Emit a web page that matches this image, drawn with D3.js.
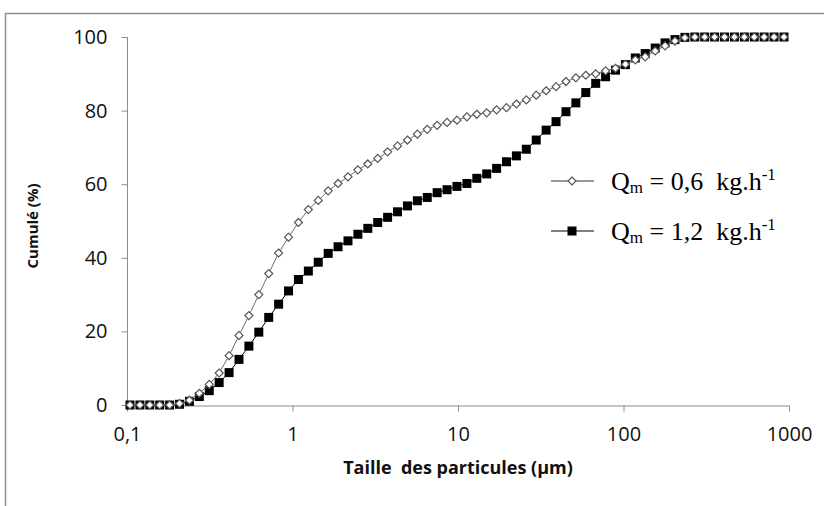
<!DOCTYPE html>
<html><head><meta charset="utf-8">
<script src="https://cdn.jsdelivr.net/npm/d3@7/dist/d3.min.js"></script>
<style>html,body{margin:0;padding:0;background:#fff;}svg{display:block;}text{white-space:pre;}</style>
</head><body>
<svg id="chart" width="824" height="506"></svg>
<script>
// Particle sizes (µm)
const sizes = [0.1042,0.1197,0.1373,0.1576,0.1809,0.2077,0.2384,0.2736,0.3141,0.3605,
  0.4138,0.4750,0.5452,0.6258,0.7183,0.8244,0.9463,1.086,1.247,1.431,
  1.643,1.885,2.164,2.484,2.851,3.272,3.756,4.311,4.949,5.680,
  6.520,7.483,8.590,9.858,11.32,12.99,14.91,17.11,19.64,22.54,
  25.87,29.70,34.09,39.13,44.91,51.55,59.17,67.92,77.96,89.48,
  102.7,117.9,135.3,155.4,178.3,204.7,234.9,269.7,309.5,355.3,
  407.8,468.0,537.2,616.6,707.8,812.4,932.5];
// Cumulative % for Qm = 0,6 kg/h
const cum06 = [0,0,0,0,0,0.4,1.3,3.2,5.6,8.7,
  13.4,18.9,24.3,30.0,35.7,41.3,45.6,49.6,53.1,55.6,
  58.2,60.2,62.0,63.9,65.5,67.0,68.8,70.4,72.0,73.6,
  74.9,76.0,76.8,77.4,78.3,79.0,79.4,80.2,80.8,81.8,
  82.9,84.2,85.4,86.5,87.9,88.9,89.6,90.0,90.8,91.5,
  92.6,93.8,94.6,96.2,97.6,98.9,99.8,100,100,100,
  100,100,100,100,100,100,100];
// Cumulative % for Qm = 1,2 kg/h
const cum12 = [0,0,0,0,0,0.2,1.0,2.3,3.9,6.1,
  8.8,12.4,16.0,19.8,23.8,27.4,31.0,34.1,36.4,38.8,
  41.2,43.0,44.6,46.4,48.0,49.6,51.0,52.5,54.1,55.5,
  56.4,57.7,58.5,59.4,60.2,61.6,62.8,64.3,66.1,67.7,
  69.5,72.0,74.7,77.0,79.7,82.1,84.9,87.4,89.2,91.0,
  92.5,94.3,95.5,97.0,98.4,99.3,99.9,100,100,100,
  100,100,100,100,100,100,100];
const xTicks = [0.1,1,10,100,1000];
const xTickLabels = ["0,1","1","10","100","1000"];
const yTicks = [0,20,40,60,80,100];
const seriesNames = ["0,6","1,2"];

const svg = d3.select("#chart");
// outer frame
svg.append("rect").attr("x",5.5).attr("y",13.5).attr("width",840).attr("height",600)
  .attr("fill","none").attr("stroke","#8f8f8f").attr("stroke-width",1.5);

const x = d3.scaleLog().domain([0.1,1000]).range([127,789]);
const y = d3.scaleLinear().domain([0,100]).range([405,37]);

const axisColor = "#8c8c8c";
const tickFont = "'Open Sans', sans-serif";

// X axis
const gx = svg.append("g").attr("transform","translate(0,405.5)")
  .call(d3.axisBottom(x).tickValues(xTicks).tickSize(6).tickPadding(15)
     .tickFormat((d,i)=>xTickLabels[i]));
gx.select(".domain").attr("stroke",axisColor).attr("d","M127,0.5H789");
gx.selectAll(".tick line").attr("stroke",axisColor);
gx.selectAll("text").attr("font-family",tickFont).attr("font-size",20).attr("fill","#111");

// Y axis
const gy = svg.append("g").attr("transform","translate(127.5,0)")
  .call(d3.axisLeft(y).tickValues(yTicks).tickSize(6).tickPadding(14));
gy.select(".domain").attr("stroke",axisColor).attr("d","M0,37V405.5");
gy.selectAll(".tick line").attr("stroke",axisColor);
gy.selectAll("text").attr("font-family",tickFont).attr("font-size",20).attr("fill","#111");

// axis titles
svg.append("text").attr("x",458).attr("y",474).attr("text-anchor","middle")
  .attr("font-family",tickFont).attr("font-weight","bold").attr("font-size",18)
  .attr("fill","#111").text("Taille  des particules (µm)");
svg.append("text").attr("transform","translate(38,226) rotate(-90)").attr("text-anchor","middle")
  .attr("font-family",tickFont).attr("font-weight","bold").attr("font-size",15)
  .attr("fill","#111").text("Cumulé (%)");

const data06 = sizes.map((s,i)=>({s, v:cum06[i]}));
const data12 = sizes.map((s,i)=>({s, v:cum12[i]}));
const line = d3.line().x(d=>x(d.s)).y(d=>y(d.v));

// series 1,2 (black squares)
svg.append("path").datum(data12).attr("d",line).attr("fill","none").attr("stroke","#000").attr("stroke-width",1);
const sq = d3.symbol().type(d3.symbolSquare).size(81);
svg.append("g").selectAll("path").data(data12).join("path")
  .attr("d",sq).attr("transform",d=>`translate(${x(d.s)},${y(d.v)})`).attr("fill","#000");

// series 0,6 (hollow diamonds)
svg.append("path").datum(data06).attr("d",line).attr("fill","none").attr("stroke","#6e6e6e").attr("stroke-width",1);
const dia = "M0,-4L4,0L0,4L-4,0Z";
svg.append("g").selectAll("path").data(data06).join("path")
  .attr("d",dia).attr("transform",d=>`translate(${x(d.s)},${y(d.v)})`)
  .attr("fill","#fff").attr("stroke","#555").attr("stroke-width",1.2);

// legend
const legRows = [{y:181, name:seriesNames[0], kind:"dia"},{y:231, name:seriesNames[1], kind:"sq"}];
const lg = svg.append("g");
legRows.forEach(r=>{
  lg.append("line").attr("x1",551).attr("x2",594).attr("y1",r.y).attr("y2",r.y)
    .attr("stroke", r.kind==="dia" ? "#333" : "#000").attr("stroke-width",1.2);
  if(r.kind==="dia"){
    lg.append("path").attr("d",dia).attr("transform",`translate(572,${r.y})`)
      .attr("fill","#fff").attr("stroke","#555").attr("stroke-width",1.2);
  } else {
    lg.append("path").attr("d",sq).attr("transform",`translate(572,${r.y})`).attr("fill","#000");
  }
  const t = lg.append("text").attr("x",611).attr("y",r.y+9)
    .attr("font-family","'Liberation Serif', 'Times New Roman', serif").attr("font-size",26).attr("fill","#000");
  t.append("tspan").text("Q");
  t.append("tspan").attr("font-size",17).attr("dy",3).text("m");
  t.append("tspan").attr("dy",-3).text(" = " + r.name + "  kg.h");
  t.append("tspan").attr("font-size",17).attr("dy",-10).text("-1");
});
</script>
</body></html>
